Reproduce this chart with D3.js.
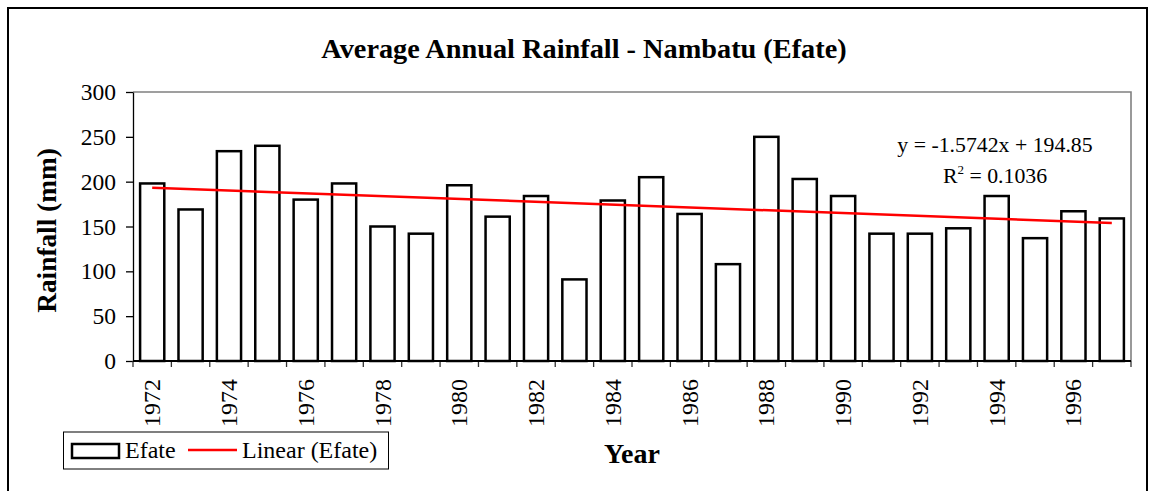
<!DOCTYPE html>
<html>
<head>
<meta charset="utf-8">
<script src="https://cdn.jsdelivr.net/npm/d3@7"></script>
<style>
  html, body { margin: 0; padding: 0; background: #fff; }
  svg text { font-family: "Liberation Serif", "Times New Roman", serif; fill: #000; }
</style>
</head>
<body>
<div id="chart"></div>
<script>
// data
const years = d3.range(1972, 1998);
const rainfall = [198, 169, 234, 240, 180, 198, 150, 142, 196, 161, 184, 91, 179,
                  205, 164, 108, 250, 203, 184, 142, 142, 148, 184, 137, 167, 159];
const yTicks = [0, 50, 100, 150, 200, 250, 300];
const labelYears = years.filter((d, i) => i % 2 === 0);
// trendline as printed on the chart (x = 1..26)
const trendSlope = -1.5742;
const trendIntercept = 194.85;
const trendR2 = 0.1036;

const width = 1155, height = 491;
const plot = { left: 133, right: 1131, top: 92, bottom: 361 };

const svg = d3.select("#chart").append("svg")
  .attr("width", width)
  .attr("height", height);

svg.append("rect")
  .attr("width", width).attr("height", height)
  .attr("fill", "#fff");

// outer chart border
svg.append("rect")
  .attr("x", 8).attr("y", 8)
  .attr("width", 1139).attr("height", 495)
  .attr("fill", "none")
  .attr("stroke", "#000")
  .attr("stroke-width", 2);

const x = d3.scaleBand()
  .domain(years)
  .range([plot.left, plot.right])
  .paddingInner(0.37)
  .paddingOuter(0.185);

const y = d3.scaleLinear()
  .domain([0, 300])
  .range([plot.bottom, plot.top]);

// plot frame (top / right in grey)
svg.append("path")
  .attr("d", `M${plot.left},${plot.top}H${plot.right}V${plot.bottom}`)
  .attr("fill", "none")
  .attr("stroke", "#808080")
  .attr("stroke-width", 1.6);

// bars
svg.append("g").selectAll("rect")
  .data(years)
  .join("rect")
  .attr("x", d => x(d))
  .attr("width", x.bandwidth())
  .attr("y", (d, i) => y(rainfall[i]))
  .attr("height", (d, i) => y(0) - y(rainfall[i]))
  .attr("fill", "#fff")
  .attr("stroke", "#000")
  .attr("stroke-width", 2.5);

// y axis
const yAxis = svg.append("g")
  .attr("transform", `translate(${plot.left},0)`)
  .call(d3.axisLeft(y).tickValues(yTicks).tickSize(7).tickPadding(10).tickSizeOuter(0));
yAxis.select(".domain").attr("stroke", "#000").attr("stroke-width", 1.3);
yAxis.selectAll(".tick line").attr("stroke", "#000").attr("stroke-width", 1.3);
yAxis.selectAll(".tick text")
  .attr("font-size", 23.5)
  .attr("fill", "#000");

// x axis line + boundary ticks
const step = x.step();
const boundaries = years.map(d => x(d) - step * x.paddingInner() / 2)
  .concat([x(years[years.length - 1]) + x.bandwidth() + step * x.paddingInner() / 2]);
svg.append("g").selectAll("line")
  .data(boundaries)
  .join("line")
  .attr("x1", d => d).attr("x2", d => d)
  .attr("y1", plot.bottom).attr("y2", plot.bottom + 6)
  .attr("stroke", "#333")
  .attr("stroke-width", 1.3);
svg.append("line")
  .attr("x1", plot.left).attr("x2", plot.right)
  .attr("y1", plot.bottom).attr("y2", plot.bottom)
  .attr("stroke", "#000")
  .attr("stroke-width", 2);

// x labels, rotated
svg.append("g").selectAll("text")
  .data(labelYears)
  .join("text")
  .attr("transform", d => `translate(${x(d) + x.bandwidth() / 2 + 8},${plot.bottom + 18}) rotate(-90)`)
  .attr("text-anchor", "end")
  .attr("font-size", 24)
  .text(d => d);

// linear trend
const trend = d3.line()
  .x(d => x(d) + x.bandwidth() / 2)
  .y(d => y(trendSlope * (years.indexOf(d) + 1) + trendIntercept));
svg.append("path")
  .datum([years[0], years[years.length - 1]])
  .attr("d", trend)
  .attr("fill", "none")
  .attr("stroke", "#ff0000")
  .attr("stroke-width", 2.5);

// equation label
svg.append("text")
  .attr("x", 995).attr("y", 152)
  .attr("text-anchor", "middle")
  .attr("font-size", 21.8)
  .text(`y = ${trendSlope}x + ${trendIntercept}`);
const r2 = svg.append("text")
  .attr("x", 995).attr("y", 183)
  .attr("text-anchor", "middle")
  .attr("font-size", 21.8);
r2.append("tspan").text("R");
r2.append("tspan").attr("font-size", 13).attr("dy", -9).text("2");
r2.append("tspan").attr("dy", 9).text(` = ${trendR2}`);

// title
svg.append("text")
  .attr("x", 584).attr("y", 58)
  .attr("text-anchor", "middle")
  .attr("font-size", 28.3)
  .attr("font-weight", "bold")
  .text("Average Annual Rainfall - Nambatu (Efate)");

// axis titles
svg.append("text")
  .attr("transform", `translate(56,${(plot.top + plot.bottom) / 2 + 4}) rotate(-90)`)
  .attr("text-anchor", "middle")
  .attr("font-size", 27.3)
  .attr("font-weight", "bold")
  .text("Rainfall (mm)");

svg.append("text")
  .attr("x", (plot.left + plot.right) / 2).attr("y", 463)
  .attr("text-anchor", "middle")
  .attr("font-size", 28)
  .attr("font-weight", "bold")
  .text("Year");

// legend
const legend = svg.append("g");
legend.append("rect")
  .attr("x", 63.5).attr("y", 432)
  .attr("width", 325).attr("height", 37)
  .attr("fill", "#fff")
  .attr("stroke", "#000")
  .attr("stroke-width", 1);
legend.append("rect")
  .attr("x", 72).attr("y", 444)
  .attr("width", 47).attr("height", 14)
  .attr("fill", "#fff")
  .attr("stroke", "#000")
  .attr("stroke-width", 2.5);
legend.append("text")
  .attr("x", 125).attr("y", 458)
  .attr("font-size", 24)
  .text("Efate");
legend.append("line")
  .attr("x1", 188).attr("x2", 237)
  .attr("y1", 450).attr("y2", 450)
  .attr("stroke", "#ff0000")
  .attr("stroke-width", 2.5);
legend.append("text")
  .attr("x", 242).attr("y", 458)
  .attr("font-size", 24)
  .text("Linear (Efate)");
</script>
</body>
</html>
